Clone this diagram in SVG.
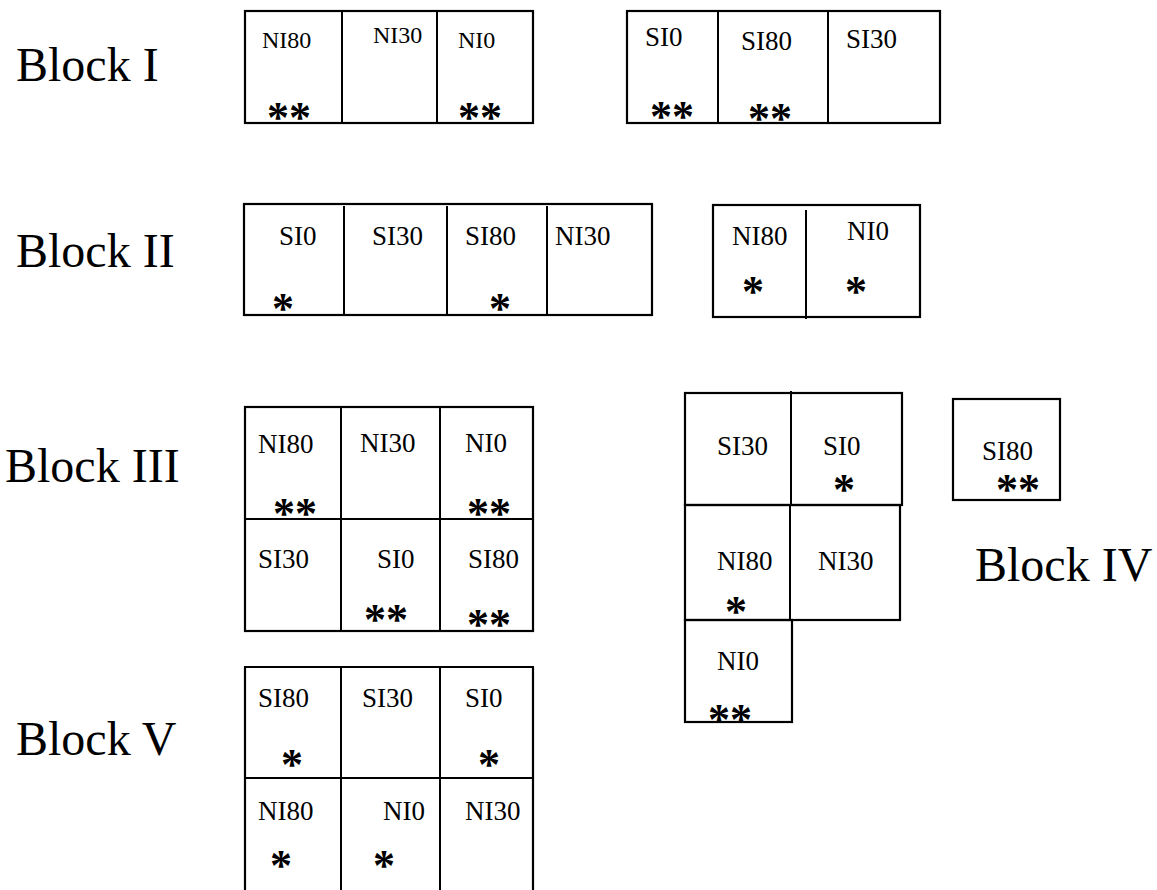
<svg xmlns="http://www.w3.org/2000/svg" width="1157" height="890" viewBox="0 0 1157 890">
<style>
.bg{fill:#fff}
.box{fill:none;stroke:#000;stroke-width:2.2}
.div{fill:none;stroke:#000;stroke-width:2}
text{font-family:'Liberation Serif','Times New Roman',serif;fill:#000}
.blk{font-size:48px}
.lb{font-size:27px}
.lb24{font-size:24px}
.st{font-size:44px;font-weight:bold;text-anchor:middle}
</style>
<rect class="bg" x="0" y="0" width="1157" height="890"/>

<g id="labels">
<text class="blk" x="16" y="81">Block I</text>
<text class="blk" x="16" y="267">Block II</text>
<text class="blk" x="5" y="482">Block III</text>
<text class="blk" x="975" y="581">Block IV</text>
<text class="blk" x="16" y="755">Block V</text>
</g>

<g id="block1-a">
<rect class="box" x="245" y="11" width="288" height="112"/>
<line class="div" x1="342" y1="11" x2="342" y2="123"/>
<line class="div" x1="437" y1="11" x2="437" y2="123"/>
<text class="lb24" x="262" y="48">NI80</text>
<text class="lb24" x="373" y="43">NI30</text>
<text class="lb24" x="458" y="48">NI0</text>
<text class="st" x="289" y="132">**</text>
<text class="st" x="480" y="132">**</text>
</g>

<g id="block1-b">
<rect class="box" x="627" y="11" width="313" height="112"/>
<line class="div" x1="718" y1="11" x2="718" y2="123"/>
<line class="div" x1="828" y1="11" x2="828" y2="123"/>
<text class="lb" x="645" y="46">SI0</text>
<text class="lb" x="741" y="50">SI80</text>
<text class="lb" x="846" y="48">SI30</text>
<text class="st" x="672" y="131">**</text>
<text class="st" x="770" y="133">**</text>
</g>

<g id="block2-a">
<rect class="box" x="244" y="204" width="408" height="111"/>
<line class="div" x1="344" y1="206" x2="344" y2="315"/>
<line class="div" x1="447" y1="206" x2="447" y2="315"/>
<line class="div" x1="547" y1="206" x2="547" y2="315"/>
<text class="lb" x="279" y="245">SI0</text>
<text class="lb" x="372" y="245">SI30</text>
<text class="lb" x="465" y="245">SI80</text>
<text class="lb" x="555" y="245">NI30</text>
<text class="st" x="283" y="323">*</text>
<text class="st" x="500" y="323">*</text>
</g>

<g id="block2-b">
<rect class="box" x="713" y="205" width="207" height="112"/>
<line class="div" x1="806" y1="210" x2="806" y2="319"/>
<text class="lb" x="732" y="245">NI80</text>
<text class="lb" x="847" y="240">NI0</text>
<text class="st" x="753" y="306">*</text>
<text class="st" x="856" y="306">*</text>
</g>

<g id="block3">
<rect class="box" x="245" y="407" width="288" height="224"/>
<line class="div" x1="245" y1="519" x2="533" y2="519"/>
<line class="div" x1="341" y1="407" x2="341" y2="631"/>
<line class="div" x1="440" y1="407" x2="440" y2="631"/>
<text class="lb" x="258" y="453">NI80</text>
<text class="lb" x="360" y="452">NI30</text>
<text class="lb" x="465" y="452">NI0</text>
<text class="st" x="295" y="528">**</text>
<text class="st" x="489" y="528">**</text>
<text class="lb" x="258" y="568">SI30</text>
<text class="lb" x="377" y="568">SI0</text>
<text class="lb" x="468" y="568">SI80</text>
<text class="st" x="386" y="634">**</text>
<text class="st" x="489" y="639">**</text>
</g>

<g id="block4">
<rect class="box" x="685" y="393" width="217" height="112"/>
<line class="div" x1="791" y1="391" x2="791" y2="505"/>
<rect class="box" x="685" y="505" width="215" height="115"/>
<line class="div" x1="790" y1="505" x2="790" y2="620"/>
<rect class="box" x="685" y="620" width="107" height="102"/>
<text class="lb" x="717" y="455">SI30</text>
<text class="lb" x="823" y="455">SI0</text>
<text class="st" x="844" y="504">*</text>
<text class="lb" x="717" y="570">NI80</text>
<text class="lb" x="818" y="570">NI30</text>
<text class="st" x="736" y="626">*</text>
<text class="lb" x="717" y="670">NI0</text>
<text class="st" x="730" y="734">**</text>
</g>

<g id="block4-b">
<rect class="box" x="953" y="399" width="107" height="101"/>
<text class="lb" x="982" y="460">SI80</text>
<text class="st" x="1018" y="504">**</text>
</g>

<g id="block5">
<line class="box" x1="244" y1="667" x2="534" y2="667"/>
<line class="box" x1="245" y1="667" x2="245" y2="890"/>
<line class="box" x1="533" y1="667" x2="533" y2="890"/>
<line class="div" x1="245" y1="778" x2="533" y2="778"/>
<line class="div" x1="341" y1="667" x2="341" y2="890"/>
<line class="div" x1="440" y1="667" x2="440" y2="890"/>
<text class="lb" x="258" y="707">SI80</text>
<text class="lb" x="362" y="707">SI30</text>
<text class="lb" x="465" y="707">SI0</text>
<text class="st" x="292" y="779">*</text>
<text class="st" x="489" y="779">*</text>
<text class="lb" x="258" y="820">NI80</text>
<text class="lb" x="383" y="820">NI0</text>
<text class="lb" x="465" y="820">NI30</text>
<text class="st" x="281" y="880">*</text>
<text class="st" x="384" y="880">*</text>
</g>
</svg>
